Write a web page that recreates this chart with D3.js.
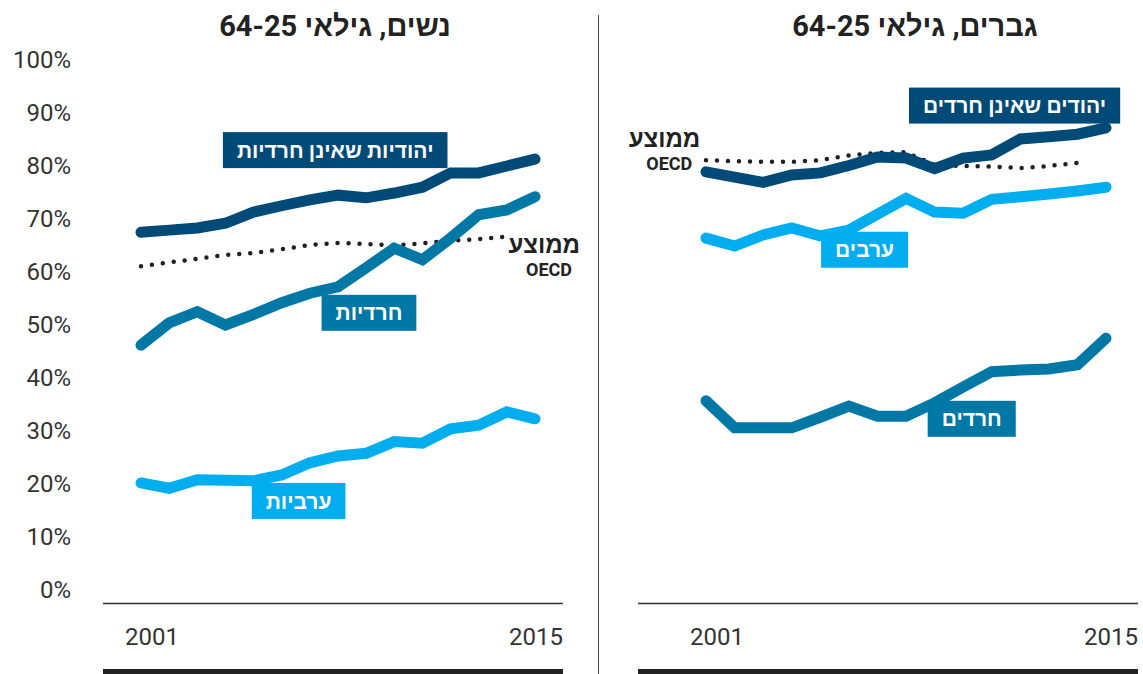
<!DOCTYPE html>
<html lang="he">
<head>
<meta charset="utf-8">
<script src="https://cdn.jsdelivr.net/npm/d3@7"></script>
<style>
  html, body { margin: 0; padding: 0; background: #fff; }
  svg { display: block; font-family: Roboto, 'Liberation Sans', 'DejaVu Sans', sans-serif; }
  .tick-label { font-size: 24px; fill: #333; }
  .title { font-size: 29px; font-weight: 700; fill: #222; }
  .tag { font-size: 21px; font-weight: 700; fill: #fff; }
  .oecd-label { font-weight: 700; fill: #222; }
</style>
</head>
<body>
<div id="chart"></div>
<script>
(function() {
  var years = [2001, 2002, 2003, 2004, 2005, 2006, 2007, 2008, 2009, 2010, 2011, 2012, 2013, 2014, 2015];
  var oecdYears = years.slice(0, 14);
  var yTicks = [0, 10, 20, 30, 40, 50, 60, 70, 80, 90, 100];
  var xTickLabels = ['2001', '2015'];

  // women, 25-64
  var womenJewish = [67.5, 67.9, 68.3, 69.2, 71.3, 72.5, 73.6, 74.5, 74.0, 74.9, 76.0, 78.7, 78.7, 80.0, 81.3];
  var womenHaredi = [46.2, 50.4, 52.5, 50.0, 52.0, 54.2, 56.0, 57.2, 60.8, 64.5, 62.3, 66.4, 70.8, 71.7, 74.2];
  var womenArab = [20.2, 19.2, 20.8, 20.7, 20.6, 21.7, 24.0, 25.3, 25.8, 28.0, 27.7, 30.4, 31.1, 33.6, 32.3];
  var womenOecd = [61.1, 61.8, 62.5, 63.2, 63.6, 64.3, 65.1, 65.5, 65.3, 65.0, 65.4, 65.9, 66.2, 66.7];

  // men, 25-64
  var menJewish = [78.9, 77.9, 76.9, 78.3, 78.7, 80.1, 81.7, 81.5, 79.5, 81.5, 82.1, 85.1, 85.5, 86.0, 87.2];
  var menHaredi = [35.7, 30.6, 30.6, 30.6, 32.6, 34.7, 32.8, 32.8, 35.3, 38.3, 41.2, 41.5, 41.7, 42.5, 47.5];
  var menArab = [66.4, 64.9, 67.0, 68.3, 66.8, 67.9, 70.9, 73.9, 71.3, 71.1, 73.7, 74.2, 74.7, 75.3, 76.0];
  var menOecd = [81.1, 80.9, 80.8, 80.8, 81.1, 82.0, 82.5, 82.6, 80.2, 80.0, 79.9, 79.6, 80.0, 80.6];

  var titles = ['נשים, גילאי 64-25', 'גברים, גילאי 64-25'];
  var womenTags = ['יהודיות שאינן חרדיות', 'חרדיות', 'ערביות'];
  var menTags = ['יהודים שאינן חרדים', 'ערבים', 'חרדים'];
  var oecdText = ['ממוצע', 'OECD'];

  var colors = { jewish: '#004a78', haredi: '#0078a6', arab: '#00aeef', oecd: '#231f20' };

  var width = 1143;
  var height = 674;

  var svg = d3.select('#chart')
    .append('svg')
    .attr('width', width)
    .attr('height', height);

  var y = d3.scaleLinear().domain([0, 100]).range([590, 60]);

  var panels = [
    {
      title: titles[0], titleX: 335, frame: [103, 563], range: [141, 535],
      series: [
        { values: womenJewish, color: colors.jewish },
        { values: womenHaredi, color: colors.haredi },
        { values: womenArab, color: colors.arab }
      ],
      oecd: womenOecd,
      tags: [
        { text: womenTags[0], year: 2007.9, value: 83.0, color: colors.jewish },
        { text: womenTags[1], year: 2009.1, value: 52.3, color: colors.haredi },
        { text: womenTags[2], year: 2006.6, value: 16.8, color: colors.arab }
      ],
      oecdLabel: { year: 2016.6, value: 63.6 }
    },
    {
      title: titles[1], titleX: 915, frame: [638, 1138], range: [706, 1106],
      series: [
        { values: menJewish, color: colors.jewish },
        { values: menHaredi, color: colors.haredi },
        { values: menArab, color: colors.arab }
      ],
      oecd: menOecd,
      tags: [
        { text: menTags[0], year: 2011.8, value: 91.4, color: colors.jewish },
        { text: menTags[1], year: 2006.55, value: 64.2, color: colors.arab },
        { text: menTags[2], year: 2010.3, value: 32.3, color: colors.haredi }
      ],
      oecdLabel: { year: 2000.8, value: 83.6 }
    }
  ];

  // y axis labels (left side only)
  svg.append('g')
    .selectAll('text')
    .data(yTicks)
    .enter()
    .append('text')
    .attr('class', 'tick-label')
    .attr('x', 71)
    .attr('y', function(d) { return y(d); })
    .attr('dy', '0.35em')
    .attr('text-anchor', 'end')
    .text(function(d) { return d + '%'; });

  // divider
  svg.append('line')
    .attr('x1', 598.5).attr('x2', 598.5)
    .attr('y1', 15).attr('y2', height)
    .attr('stroke', '#444')
    .attr('stroke-width', 1);

  panels.forEach(function(p) {
    var x = d3.scaleLinear().domain([years[0], years[years.length - 1]]).range(p.range);
    var g = svg.append('g');

    g.append('text')
      .attr('class', 'title')
      .attr('x', p.titleX)
      .attr('y', 36)
      .attr('text-anchor', 'middle')
      .attr('direction', 'rtl')
      .text(p.title);

    // baseline and bottom rule
    g.append('line')
      .attr('x1', p.frame[0]).attr('x2', p.frame[1])
      .attr('y1', 603.5).attr('y2', 603.5)
      .attr('stroke', '#333').attr('stroke-width', 1.3);
    g.append('rect')
      .attr('x', p.frame[0]).attr('y', 669)
      .attr('width', p.frame[1] - p.frame[0]).attr('height', 5)
      .attr('fill', '#222');

    g.append('text')
      .attr('class', 'tick-label')
      .attr('x', x(years[0]) - 16)
      .attr('y', 645)
      .text(xTickLabels[0]);
    g.append('text')
      .attr('class', 'tick-label')
      .attr('x', p.frame[1])
      .attr('y', 645)
      .attr('text-anchor', 'end')
      .text(xTickLabels[1]);

    // OECD dotted line
    var oecdLine = d3.line()
      .x(function(d, i) { return x(oecdYears[i]); })
      .y(function(d) { return y(d); });
    g.append('path')
      .attr('d', oecdLine(p.oecd))
      .attr('fill', 'none')
      .attr('stroke', colors.oecd)
      .attr('stroke-width', 4.5)
      .attr('stroke-linecap', 'round')
      .attr('stroke-dasharray', '0 11');

    var line = d3.line()
      .x(function(d, i) { return x(years[i]); })
      .y(function(d) { return y(d); });

    g.selectAll('path.series')
      .data(p.series)
      .enter()
      .append('path')
      .attr('class', 'series')
      .attr('d', function(s) { return line(s.values); })
      .attr('fill', 'none')
      .attr('stroke', function(s) { return s.color; })
      .attr('stroke-width', 11)
      .attr('stroke-linecap', 'round')
      .attr('stroke-linejoin', 'miter');

    // OECD text label
    var ol = g.append('text')
      .attr('class', 'oecd-label')
      .attr('x', x(p.oecdLabel.year))
      .attr('y', y(p.oecdLabel.value))
      .attr('text-anchor', 'end');
    ol.append('tspan').attr('font-size', 24).text(oecdText[0]);
    ol.append('tspan')
      .attr('x', x(p.oecdLabel.year) - 8)
      .attr('dy', 23)
      .attr('font-size', 18)
      .text(oecdText[1]);

    // tag boxes
    p.tags.forEach(function(t) {
      var cx = x(t.year);
      var cy = y(t.value);
      var tg = g.append('g');
      var box = tg.append('rect').attr('fill', t.color);
      var txt = tg.append('text')
        .attr('class', 'tag')
        .attr('x', cx)
        .attr('y', cy)
        .attr('dy', '0.36em')
        .attr('text-anchor', 'middle')
        .attr('direction', 'rtl')
        .text(t.text);
      var w = txt.node().getComputedTextLength() + 28;
      box.attr('x', cx - w / 2)
        .attr('y', cy - 18)
        .attr('width', w)
        .attr('height', 36);
    });
  });
})();
</script>
</body>
</html>
